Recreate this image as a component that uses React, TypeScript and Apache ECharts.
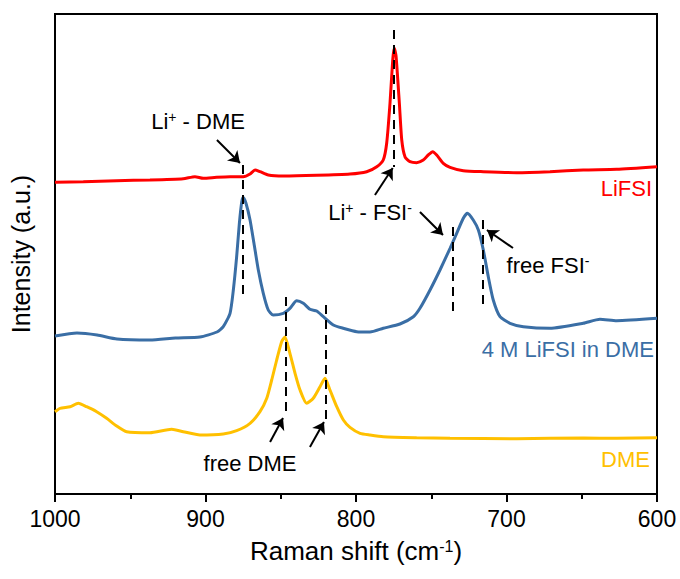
import React, { useEffect, useRef } from 'react';
import * as echarts from 'echarts';

// Wavenumber (cm-1) vs. intensity (arbitrary units, stacked offsets)
const lifsi: [number, number][] = [
  [1000, 311.7], [981.2, 312.3], [959, 313.3], [936.9, 314], [914.8, 315.3], [907, 317.3], [901.5, 315.7],
  [892.6, 316.7], [883.7, 317.3], [874.9, 317.3], [870.4, 320], [867.1, 324], [863.8, 322.3], [858.3, 319],
  [848.3, 318], [826.1, 318.7], [804, 320], [792.9, 322.3], [786.2, 327.3], [781.9, 334], [779.6, 351],
  [777.4, 391], [775.6, 434], [774.6, 446], [773.4, 438], [771.2, 391], [769.6, 354], [767.4, 337],
  [764.1, 332.3], [759.7, 331.3], [755.3, 334], [752, 339], [749, 342.3], [746.4, 339], [742, 330.7],
  [737.5, 326.7], [728.7, 323.3], [715.4, 322.3], [693.2, 321.3], [671.1, 322.3], [649, 324], [626.8, 324.7],
  [600, 327.3],
];

const solution: [number, number][] = [
  [1000, 158], [985.4, 161], [972, 159], [958.8, 155], [936.9, 154], [920, 156], [903.7, 157], [892.4, 162],
  [888.2, 167.3], [883.7, 180.7], [881.5, 204], [879.3, 237.3], [877.5, 270.7], [875.9, 292.3], [874.9, 296.5],
  [873.1, 290.7], [870.4, 274], [867.8, 250.7], [864.9, 224], [861.6, 200.7], [858.3, 184], [855, 179],
  [848.3, 180.7], [843.9, 185.7], [839.4, 193.3], [835, 190.7], [830.6, 184.7], [826.1, 183], [821.7, 177.3],
  [815.1, 169], [808.4, 165.7], [799.5, 162.3], [790.7, 162], [781.9, 165.7], [770.8, 170], [761.9, 177.3],
  [757.5, 185.7], [750.8, 204], [744.2, 224], [737.5, 245.7], [733.1, 260.7], [728.7, 275.7], [726, 280.7],
  [722.1, 274], [718.7, 264], [715.4, 244], [712.1, 217.3], [708.8, 194], [704.3, 177.3], [697.7, 170.7],
  [688.8, 167.3], [671.1, 165.7], [649, 170.7], [637.9, 174.7], [626.8, 173.3], [600, 175.7],
];

const dme: [number, number][] = [
  [1000, 82.3], [996.7, 85.7], [990, 87.3], [984.5, 90.7], [979, 87.3], [972.3, 82.3], [965.7, 75.7],
  [959, 68], [952.4, 62.3], [936.9, 61.3], [922.5, 64.7], [914.8, 62.3], [903.7, 59], [888.2, 60],
  [879.3, 63.3], [870.4, 70.7], [863.8, 82.3], [859.3, 95.7], [856, 114], [852.7, 134], [849.4, 152.3],
  [847.2, 157], [843.9, 140.7], [840.5, 120.7], [837.2, 104], [832.8, 90.7], [828.4, 95.7], [823.9, 107.3],
  [820.6, 115.7], [817.3, 104], [812.8, 87.3], [808.4, 74], [804, 66.7], [797.3, 60.7], [790.7, 59],
  [781.9, 57.3], [759.7, 56.3], [737.5, 55.7], [693.2, 55.3], [649, 56], [626.8, 55.7], [600, 56.3],
];

// Dashed guide lines: [wavenumber, yFrom, yTo]
const guides: [number, number, number][] = [
  [775, 464, 327], [875, 329, 194], [847, 197, 79], [820, 189, 74], [736, 267, 181], [716, 274, 187],
];

// Arrows: [x1, y1, x2 (tip), y2 (tip)]
const arrows: [number, number, number, number][] = [
  [892.4, 354, 877.1, 331],
  [787.4, 299, 775.6, 326],
  [757.5, 282, 742.2, 259],
  [695.7, 246, 713, 264],
  [857.1, 52, 848.5, 76],
  [830.6, 47, 821.3, 72],
];

const FONT = '"Liberation Sans", Arial, Helvetica, sans-serif';
const RED = '#ff0000';
const BLUE = '#3a6ea5';
const GOLD = '#ffc000';

export default function App() {
  const ref = useRef<HTMLDivElement>(null);

  useEffect(() => {
    if (!ref.current) return;
    document.body.style.margin = '0';
    const chart = echarts.init(ref.current, undefined, { renderer: 'svg' });

    const rich = {
      n: { fontSize: 22, fontFamily: FONT, color: '#000' },
      s: { fontSize: 14, fontFamily: FONT, color: '#000', verticalAlign: 'top' },
    };
    const annot = (text: string, x: number, y: number) => ({
      type: 'text',
      x,
      y,
      silent: true,
      style: { text, rich, fontSize: 22, fontFamily: FONT, fill: '#000', align: 'center', verticalAlign: 'middle' },
    });
    const seriesLabel = (text: string, x: number, y: number, color: string) => ({
      type: 'text',
      x,
      y,
      silent: true,
      style: { text, fontSize: 22, fontFamily: FONT, fill: color, align: 'right', verticalAlign: 'middle' },
    });

    const lineSeries = (name: string, data: [number, number][], color: string) => ({
      name, type: 'line', data, showSymbol: false, smooth: 0.2,
      lineStyle: { color, width: 3 }, itemStyle: { color }, silent: true,
    });

    const option: any = {
      animation: false,
      grid: {
        left: 55, right: 23, top: 14, bottom: 85,
        show: true, borderColor: '#000', borderWidth: 2, backgroundColor: 'transparent',
      },
      xAxis: {
        type: 'value', min: 600, max: 1000, interval: 100, inverse: true,
        axisLine: { show: true, onZero: false, lineStyle: { color: '#000', width: 2 } },
        axisTick: { show: true, inside: false, length: 8, lineStyle: { color: '#000', width: 2 } },
        minorTick: { show: true, splitNumber: 2, length: 5, lineStyle: { color: '#000', width: 2 } },
        splitLine: { show: false },
        minorSplitLine: { show: false },
        axisLabel: { color: '#000', fontSize: 23, fontFamily: FONT, margin: 13, formatter: (v: number) => String(v) },
        name: 'Raman shift (cm{s|-1})',
        nameLocation: 'middle',
        nameGap: 44,
        nameTextStyle: {
          color: '#000', fontSize: 26, fontFamily: FONT,
          rich: { s: { fontSize: 16, fontFamily: FONT, color: '#000', verticalAlign: 'top' } },
        },
      },
      yAxis: {
        type: 'value', min: 0, max: 480,
        axisLine: { show: true, lineStyle: { color: '#000', width: 2 } },
        axisTick: { show: false },
        axisLabel: { show: false },
        splitLine: { show: false },
        name: 'Intensity (a.u.)',
        nameLocation: 'middle',
        nameGap: 22,
        nameTextStyle: { color: '#000', fontSize: 25, fontFamily: FONT },
      },
      series: [
        {
          ...lineSeries('LiFSI', lifsi, RED),
          markLine: {
            silent: true, symbol: ['none', 'arrow'], symbolSize: 11,
            label: { show: false },
            lineStyle: { color: '#000', width: 2, type: 'solid' },
            itemStyle: { color: '#000' },
            data: arrows.map(([x1, y1, x2, y2]) => [{ coord: [x1, y1] }, { coord: [x2, y2] }]),
          },
        },
        lineSeries('4 M LiFSI in DME', solution, BLUE),
        {
          ...lineSeries('DME', dme, GOLD),
          markLine: {
            silent: true, symbol: ['none', 'none'],
            label: { show: false },
            lineStyle: { color: '#000', width: 2, type: [9, 6] },
            data: guides.map(([x, a, b]) => [{ coord: [x, a] }, { coord: [x, b] }]),
          },
        },
      ],
      graphic: [
        annot('{n|Li}{s|+}{n| - DME}', 198, 121),
        annot('{n|Li}{s|+}{n| - FSI}{s|-}', 370, 212),
        annot('{n|free FSI}{s|-}', 548, 265),
        annot('{n|free DME}', 250, 463),
        seriesLabel('LiFSI', 652, 188, RED),
        seriesLabel('4 M LiFSI in DME', 654, 349, BLUE),
        seriesLabel('DME', 650, 459, GOLD),
      ],
    };

    chart.setOption(option);
    return () => chart.dispose();
  }, []);

  return (
    <div
      ref={ref}
      style={{ position: 'fixed', left: 0, top: 0, width: 680, height: 579, background: '#fff' }}
    />
  );
}
